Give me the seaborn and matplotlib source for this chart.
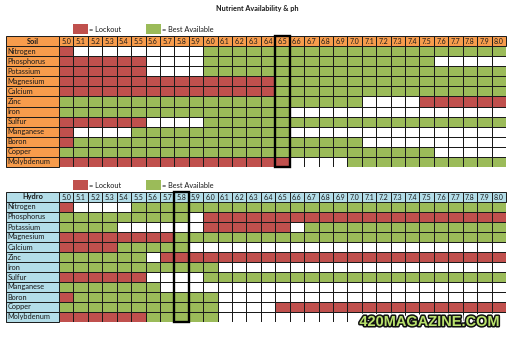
import numpy as np
import matplotlib
matplotlib.use("Agg")
import matplotlib.pyplot as plt
from matplotlib.colors import ListedColormap
from matplotlib.patches import Rectangle
import matplotlib.patheffects as pe
import seaborn as sns

sns.set_style("white")
plt.rcParams["font.family"] = ["Lato", "DejaVu Sans"]

# pH columns
ph_labels = ["5.0", "5.1", "5.2", "5.3", "5.4", "5.5", "5.6", "5.7", "5.8", "5.9",
             "6.0", "6.1", "6.2", "6.3", "6.4", "6.5", "6.6", "6.7", "6.8", "6.9",
             "7.0", "7.1", "7.2", "7.3", "7.4", "7.5", "7.6", "7.7", "7.8", "7.9", "8.0"]

nutrients = ["Nitrogen", "Phosphorus", "Potassium", "Magnesium", "Calcium", "Zinc",
             "Iron", "Sulfur", "Manganese", "Boron", "Copper", "Molybdenum"]

# Availability per nutrient as runs across the pH columns:
# R = lockout, G = best available, W = neither
soil_runs = [
    [("R", 1), ("W", 9), ("G", 21)],
    [("R", 6), ("W", 4), ("G", 16), ("W", 5)],
    [("R", 6), ("W", 4), ("G", 21)],
    [("R", 15), ("G", 16)],
    [("R", 15), ("G", 16)],
    [("G", 21), ("W", 4), ("R", 6)],
    [("G", 16), ("W", 15)],
    [("R", 6), ("W", 4), ("G", 21)],
    [("R", 1), ("W", 4), ("G", 11), ("W", 15)],
    [("R", 1), ("G", 20), ("W", 10)],
    [("G", 26), ("W", 5)],
    [("R", 16), ("W", 4), ("G", 11)],
]

hydro_runs = [
    [("R", 1), ("W", 4), ("G", 26)],
    [("G", 9), ("W", 1), ("R", 21)],
    [("G", 4), ("W", 6), ("R", 6), ("W", 1), ("G", 14)],
    [("R", 8), ("G", 23)],
    [("R", 4), ("G", 5), ("W", 22)],
    [("G", 6), ("W", 1), ("R", 24)],
    [("G", 11), ("W", 20)],
    [("R", 6), ("W", 4), ("G", 21)],
    [("G", 7), ("W", 24)],
    [("R", 1), ("G", 10), ("W", 20)],
    [("G", 11), ("W", 4), ("R", 16)],
    [("R", 6), ("G", 5), ("W", 20)],
]

soil_marker = "6.5"
hydro_marker = "5.8"

RED = "#c0504d"
GREEN = "#9bbb59"
ORANGE = "#f79c4c"
BLUE = "#b3dde8"
CODE = {"W": 0, "R": 1, "G": 2}


def expand(runs):
    row = []
    for key, n in runs:
        row += [CODE[key]] * n
    return row


W_PX, H_PX = 512, 338
fig = plt.figure(figsize=(W_PX / 100, H_PX / 100), dpi=100)
fig.patch.set_facecolor("white")

LEFT, RIGHT = 6, 506
LABEL_PX = 53
col_px = (RIGHT - LEFT - LABEL_PX) / len(ph_labels)
LABEL_W = LABEL_PX / col_px


def draw_table(top, bottom, title, runs, head_color, marker):
    ax = fig.add_axes([LEFT / W_PX, 1 - bottom / H_PX,
                       (RIGHT - LEFT) / W_PX, (bottom - top) / H_PX])
    codes = np.array([expand(r) for r in runs])
    cmap = ListedColormap(["white", RED, GREEN])
    sns.heatmap(codes, ax=ax, cmap=cmap, vmin=-0.5, vmax=2.5, cbar=False,
                linewidths=0.7, linecolor="#a0a0a0",
                xticklabels=False, yticklabels=False)
    sns.heatmap(codes, ax=ax, cmap=cmap, vmin=-0.5, vmax=2.5, cbar=False,
                mask=(codes == 0), linewidths=0.7, linecolor="#1a1a1a",
                xticklabels=False, yticklabels=False)
    nrow, ncol = codes.shape
    ax.set_xlim(-LABEL_W, ncol)
    ax.set_ylim(nrow, -1)
    ax.axis("off")

    # header row with pH values
    for j, lab in enumerate(ph_labels):
        ax.add_patch(Rectangle((j, -1), 1, 1, fc=head_color, ec="#1a1a1a",
                               lw=0.7, clip_on=False))
        ax.text(j + 0.5, -0.5, lab, ha="center", va="center",
                fontsize=5.0, color="#1a1a1a")
    # label column
    ax.add_patch(Rectangle((-LABEL_W, -1), LABEL_W, 1, fc=head_color,
                           ec="#1a1a1a", lw=0.7, clip_on=False))
    ax.text(-LABEL_W / 2, -0.5, title, ha="center", va="center",
            fontsize=5.3, fontweight="bold", color="#1a1a1a")
    for i, name in enumerate(nutrients):
        ax.add_patch(Rectangle((-LABEL_W, i), LABEL_W, 1, fc=head_color,
                               ec="#1a1a1a", lw=0.7, clip_on=False))
        ax.text(-LABEL_W + 0.12, i + 0.5, name, ha="left", va="center",
                fontsize=5.3, color="#1a1a1a")
    # highlighted pH column
    k = ph_labels.index(marker)
    ax.add_patch(Rectangle((k, -1), 1, nrow + 1, fill=False, ec="black",
                           lw=1.7, clip_on=False, zorder=5))
    return ax


draw_table(36, 167, "Soil", soil_runs, ORANGE, soil_marker)
draw_table(192, 322, "Hydro", hydro_runs, BLUE, hydro_marker)

# overlay in pixel coordinates for title, legends and banner
ov = fig.add_axes([0, 0, 1, 1], facecolor="none")
ov.set_xlim(0, W_PX)
ov.set_ylim(H_PX, 0)
ov.axis("off")

ov.text(257, 9, "Nutrient Availability & ph", ha="center", va="center",
        fontsize=5.2, fontweight="bold", color="#1a1a1a")

for y0 in (24, 180):
    ov.add_patch(Rectangle((73, y0), 15, 10, fc=RED, ec="none"))
    ov.text(89, y0 + 5, "= Lockout", ha="left", va="center", fontsize=5.3,
            color="#1a1a1a")
    ov.add_patch(Rectangle((146, y0), 15, 10, fc=GREEN, ec="none"))
    ov.text(162, y0 + 5, "= Best Available", ha="left", va="center",
            fontsize=5.3, color="#1a1a1a")

ov.text(430, 322, "420MAGAZINE.COM", ha="center", va="center",
        fontsize=10.5, fontweight="bold",
        family=["Liberation Sans", "DejaVu Sans"], color="#b9e26c",
        path_effects=[pe.Stroke(linewidth=4.0, foreground="white"),
                      pe.Stroke(linewidth=2.2, foreground="#111111"),
                      pe.Normal()], zorder=10)

fig.savefig("out.png", dpi=100, facecolor="white")
